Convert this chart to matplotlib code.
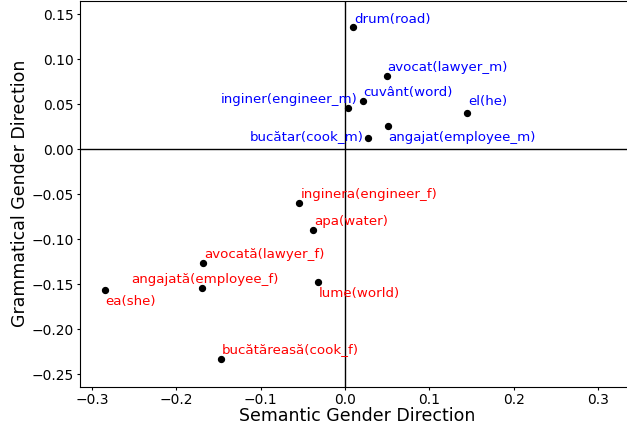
import numpy as np
import matplotlib
matplotlib.use('Agg')
import matplotlib.pyplot as plt

# words with their projections on the two gender directions
male_words = ['drum(road)', 'avocat(lawyer_m)', 'cuvânt(word)', 'inginer(engineer_m)',
              'el(he)', 'angajat(employee_m)', 'bucătar(cook_m)']
male_x = [0.010, 0.050, 0.021, 0.004, 0.145, 0.051, 0.027]
male_y = [0.136, 0.082, 0.054, 0.046, 0.040, 0.026, 0.013]

female_words = ['inginera(engineer_f)', 'apa(water)', 'avocată(lawyer_f)', 'angajată(employee_f)',
                'ea(she)', 'lume(world)', 'bucătăreasă(cook_f)']
female_x = [-0.054, -0.038, -0.168, -0.170, -0.284, -0.032, -0.147]
female_y = [-0.059, -0.089, -0.126, -0.154, -0.156, -0.147, -0.233]

# label placement (pixel offset, ha, va), roughly what adjustText gave
male_pos = [((1, 1), 'left', 'bottom'), ((0, 2), 'left', 'bottom'), ((1, 2), 'left', 'bottom'),
            ((9, 2), 'right', 'bottom'), ((1, 5), 'left', 'bottom'), ((0, -5), 'left', 'top'),
            ((-4, -5), 'right', 'bottom')]
female_pos = [((1, 2), 'left', 'bottom'), ((1, 2), 'left', 'bottom'), ((1, 2), 'left', 'bottom'),
              ((3, 2), 'center', 'bottom'), ((0, -5), 'left', 'top'), ((1, -5), 'left', 'top'),
              ((1, 3), 'left', 'bottom')]

fig = plt.figure(figsize=(6.27, 4.29), dpi=100)
ax = fig.add_axes([0.1276, 0.0986, 0.8852, 0.9002])

ax.axhline(0, color='black', lw=1)
ax.axvline(0, color='black', lw=1)

ax.scatter(male_x, male_y, s=18, color='black', zorder=3)
ax.scatter(female_x, female_y, s=18, color='black', zorder=3)

for word, x, y, (off, ha, va) in zip(male_words, male_x, male_y, male_pos):
    ax.annotate(word, (x, y), xytext=off, textcoords='offset pixels',
                ha=ha, va=va, color='blue', fontsize=9.6)
for word, x, y, (off, ha, va) in zip(female_words, female_x, female_y, female_pos):
    ax.annotate(word, (x, y), xytext=off, textcoords='offset pixels',
                ha=ha, va=va, color='red', fontsize=9.6)

ax.set_xlim(-0.314, 0.3436)
ax.set_ylim(-0.2637, 0.1655)
ax.set_xticks(np.arange(-0.3, 0.31, 0.1))
ax.set_yticks(np.arange(-0.25, 0.151, 0.05))
ax.tick_params(length=2, pad=2.5, labelsize=10)

ax.set_xlabel('Semantic Gender Direction', fontsize=12.5, labelpad=0)
ax.set_ylabel('Grammatical Gender Direction', fontsize=12.5, labelpad=1.5)

fig.savefig('out.png', dpi=100)
